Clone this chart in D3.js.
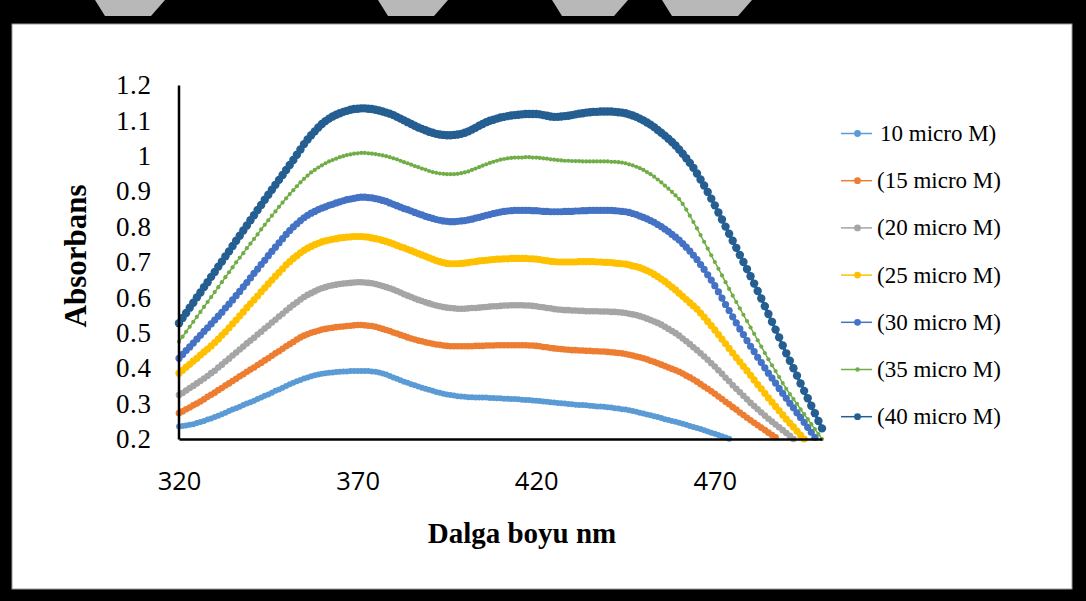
<!DOCTYPE html>
<html>
<head>
<meta charset="utf-8">
<script src="https://cdn.jsdelivr.net/npm/d3@7"></script>
<style>
  html, body { margin: 0; padding: 0; background: #fff; }
  svg { display: block; }
</style>
</head>
<body>
<svg id="chart" width="1086" height="601"></svg>
<script>
// Wavelength axis: one reading per nanometre, starting at 320 nm
const wavelengths = d3.range(320, 501);
const xTickValues = [320, 370, 420, 470];
const yTickValues = [0.2, 0.3, 0.4, 0.5, 0.6, 0.7, 0.8, 0.9, 1.0, 1.1, 1.2];
const yTickLabels = ["0.2", "0.3", "0.4", "0.5", "0.6", "0.7", "0.8", "0.9", "1", "1.1", "1.2"];

const seriesNames = ["10 micro M)", "(15 micro M)", "(20 micro M)", "(25 micro M)",
                     "(30 micro M)", "(35 micro M)", "(40 micro M)"];
const seriesColors = ["#5B9BD5", "#ED7D31", "#A5A5A5", "#FFC000", "#4472C4", "#70AD47", "#255E91"];

// Absorbance readings (one per nm from 320 nm; each stops where it leaves the 0.2 floor)
const abs10 = [
  .235,.237,.238,.240,.242,.245, .248,.251,.255,.258,.262, .266,.270,.274,.279,.283,
  .287,.291,.296,.300,.304, .308,.313,.317,.322,.326, .331,.336,.340,.345,.350,
  .355,.359,.363,.367,.371, .374,.377,.380,.382,.384, .386,.387,.388,.389,.390,
  .391,.391,.392,.392,.392, .392,.392,.392,.391,.390, .388,.385,.382,.378,.374,
  .370,.366,.362,.359,.355, .352,.348,.345,.342,.339, .336,.333,.331,.328,.326,
  .324,.323,.321,.320,.319, .318,.318,.317,.317,.317, .317,.316,.316,.315,.315,
  .314,.314,.313,.313,.312, .311,.310,.310,.309,.308, .307,.306,.305,.304,.303,
  .302,.301,.300,.299,.298, .297,.296,.296,.295,.294, .293,.292,.292,.291,.290,
  .289,.287,.286,.284,.283, .281,.279,.277,.274,.272, .269,.267,.264,.262,.259,
  .256,.254,.251,.249,.246, .243,.240,.237,.234,.231, .228,.225,.221,.218,.215,
  .211,.208,.204,.201
];
const abs15 = [
  .273,.278,.284,.289,.295,.300, .306,.312,.319,.325,.331, .338,.344,.351,.357,.364,
  .370,.377,.383,.390,.396, .402,.409,.415,.422,.428, .435,.442,.448,.455,.462,
  .468,.474,.481,.487,.492, .496,.500,.503,.506,.509, .511,.513,.514,.516,.517,
  .518,.519,.520,.521,.522, .522,.521,.520,.519,.517, .514,.511,.508,.505,.501,
  .498,.494,.491,.487,.484, .481,.478,.476,.473,.471, .469,.467,.466,.464,.463,
  .462,.462,.462,.462,.462, .462,.462,.463,.463,.463, .464,.464,.464,.465,.465,
  .465,.465,.465,.465,.465, .465,.465,.464,.464,.463, .462,.460,.459,.457,.456,
  .455,.454,.453,.452,.451, .451,.450,.450,.449,.449, .448,.448,.447,.447,.446,
  .445,.444,.443,.442,.440, .438,.436,.433,.431,.428, .425,.421,.418,.414,.410,
  .406,.402,.398,.394,.390, .385,.379,.374,.368,.362, .355,.348,.342,.335,.328,
  .320,.313,.305,.298,.290, .283,.275,.268,.260,.253, .246,.239,.232,.225,.218,
  .211,.205
];
const abs20 = [
  .324,.330,.337,.344,.350,.357, .364,.371,.378,.386,.393, .402,.410,.419,.427,.436,
  .444,.453,.461,.470,.478, .486,.495,.503,.512,.520, .529,.537,.546,.554,.563,
  .571,.579,.586,.594,.601, .607,.612,.617,.622,.626, .629,.632,.634,.636,.638,
  .639,.640,.641,.642,.643, .643,.642,.641,.640,.638, .635,.632,.629,.626,.622,
  .618,.614,.609,.605,.601, .597,.593,.590,.586,.583, .580,.577,.575,.573,.571,
  .570,.569,.568,.568,.568, .569,.570,.570,.571,.572, .573,.574,.575,.575,.576,
  .577,.577,.578,.578,.578, .578,.577,.577,.576,.575, .573,.572,.570,.569,.567,
  .566,.565,.564,.564,.563, .563,.562,.562,.561,.561, .561,.561,.560,.560,.560,
  .559,.559,.558,.557,.556, .554,.552,.550,.547,.544, .540,.536,.532,.528,.523,
  .517,.511,.505,.499,.492, .484,.476,.468,.459,.451, .442,.433,.424,.414,.405,
  .394,.384,.373,.363,.352, .342,.332,.322,.312,.302, .293,.284,.275,.266,.257,
  .249,.241,.233,.225,.217, .209,.200
];
const abs25 = [
  .386,.394,.403,.411,.420,.428, .437,.446,.454,.463,.472, .482,.493,.503,.514,.525,
  .536,.548,.559,.571,.582, .593,.604,.616,.627,.638, .649,.660,.670,.681,.692,
  .701,.710,.718,.726,.733, .739,.744,.749,.753,.757, .760,.762,.764,.766,.768,
  .769,.770,.771,.772,.772, .772,.771,.770,.768,.766, .764,.761,.758,.755,.751,
  .747,.743,.740,.736,.732, .728,.724,.720,.716,.712, .708,.704,.701,.698,.696,
  .695,.695,.695,.696,.697, .698,.700,.701,.703,.704, .705,.706,.707,.708,.708,
  .709,.709,.710,.710,.710, .710,.710,.709,.709,.708, .707,.705,.704,.702,.701,
  .700,.700,.700,.700,.700, .700,.701,.701,.701,.701, .701,.700,.700,.699,.699,
  .698,.697,.696,.695,.694, .692,.689,.687,.684,.680, .676,.671,.665,.659,.652,
  .645,.637,.629,.621,.612, .603,.594,.585,.576,.567, .556,.544,.532,.520,.508,
  .495,.482,.469,.456,.443, .430,.418,.405,.393,.380, .367,.354,.342,.329,.316,
  .304,.292,.280,.268,.256, .245,.234,.222,.211,.200
];
const abs30 = [
  .428,.439,.450,.460,.471,.482, .493,.504,.514,.525,.536, .547,.558,.570,.581,.593,
  .605,.617,.630,.642,.655, .668,.680,.693,.705,.718, .730,.742,.754,.766,.778,
  .789,.799,.808,.817,.825, .832,.838,.843,.848,.852, .856,.860,.863,.867,.870,
  .873,.876,.878,.880,.882, .883,.883,.882,.881,.879, .877,.874,.871,.867,.863,
  .859,.855,.851,.848,.844, .840,.836,.833,.829,.826, .823,.820,.818,.816,.815,
  .814,.814,.815,.816,.817, .819,.821,.824,.826,.829, .832,.834,.837,.839,.841,
  .843,.844,.845,.846,.846, .846,.846,.846,.845,.845, .844,.843,.843,.842,.842,
  .842,.842,.843,.843,.843, .844,.844,.845,.845,.846, .846,.846,.846,.846,.846,
  .846,.845,.844,.843,.842, .840,.837,.834,.830,.826, .822,.817,.812,.806,.800,
  .793,.786,.778,.770,.762, .752,.742,.731,.719,.707, .693,.679,.664,.649,.633,
  .616,.598,.580,.563,.545, .528,.511,.495,.478,.462, .447,.431,.416,.401,.386,
  .372,.358,.343,.329,.315, .301,.288,.274,.261,.247, .233,.219,.205
];
const abs35 = [
  .475,.489,.503,.517,.531,.545, .559,.573,.587,.601,.615, .629,.643,.657,.671,.685,
  .699,.712,.725,.739,.752, .765,.778,.792,.805,.818, .831,.843,.856,.868,.880,
  .892,.903,.914,.925,.935, .944,.953,.960,.967,.973, .979,.984,.988,.992,.996,
  .999,1.002,1.004,1.006,1.007, 1.008,1.008,1.007,1.006,1.005, 1.003,1.001,.999,.996,.993,
  .990,.986,.982,.979,.975, .971,.968,.964,.961,.957, .954,.952,.950,.949,.948,
  .948,.948,.949,.951,.953, .956,.960,.964,.968,.972, .976,.980,.983,.986,.989,
  .991,.993,.994,.995,.995, .995,.996,.996,.995,.995, .994,.993,.992,.990,.989,
  .988,.987,.986,.986,.985, .985,.985,.984,.984,.984, .984,.984,.984,.984,.984,
  .983,.983,.982,.981,.979, .976,.973,.969,.965,.960, .954,.948,.941,.933,.925,
  .916,.907,.898,.888,.878, .864,.848,.831,.813,.795, .776,.757,.738,.719,.700,
  .681,.662,.643,.624,.605, .587,.569,.551,.533,.515, .497,.479,.461,.443,.425,
  .408,.392,.375,.358,.342, .327,.313,.299,.284,.270, .256,.242,.228,.214,.200
];
const abs40 = [
  .527,.542,.556,.571,.585,.600, .614,.629,.643,.658,.672, .687,.701,.716,.730,.745,
  .760,.774,.789,.803,.818, .832,.847,.861,.876,.890, .904,.918,.932,.946,.960,
  .974,.988,1.003,1.018,1.033, 1.046,1.058,1.069,1.080,1.090, 1.098,1.105,1.111,1.116,1.120,
  1.124,1.127,1.130,1.132,1.133, 1.134,1.134,1.133,1.132,1.130, 1.128,1.125,1.122,1.119,1.115,
  1.110,1.105,1.100,1.095,1.090, 1.085,1.080,1.076,1.072,1.068, 1.065,1.062,1.060,1.059,1.058,
  1.058,1.059,1.060,1.062,1.065, 1.069,1.074,1.079,1.085,1.090, 1.095,1.099,1.102,1.105,1.108,
  1.110,1.112,1.114,1.115,1.116, 1.117,1.118,1.118,1.118,1.118, 1.117,1.115,1.113,1.111,1.110,
  1.110,1.111,1.112,1.113,1.115, 1.117,1.119,1.120,1.122,1.123, 1.124,1.124,1.125,1.125,1.125,
  1.125,1.124,1.123,1.122,1.120, 1.117,1.114,1.110,1.105,1.100, 1.094,1.088,1.081,1.073,1.065,
  1.057,1.048,1.039,1.029,1.018, 1.006,.993,.980,.966,.950, .933,.916,.898,.879,.860,
  .840,.820,.800,.780,.760, .740,.720,.700,.680,.660, .639,.618,.597,.575,.553,
  .531,.509,.487,.464,.442, .421,.400,.379,.357,.336, .315,.294,.273,.251,.230
];

const seriesValues = [abs10, abs15, abs20, abs25, abs30, abs35, abs40];
// marker radius / connecting line width per series
const markerRadius = [3.0, 3.3, 3.3, 3.6, 3.6, 2.1, 4.2];
const lineWidth = [2.5, 2.5, 2.5, 2.5, 2.5, 1.5, 3];

const svg = d3.select("#chart");
const W = 1086, H = 601;

// frame
svg.append("rect").attr("x", 0).attr("y", 0).attr("width", W).attr("height", H).attr("fill", "#000");
svg.append("rect").attr("x", 12).attr("y", 24).attr("width", W - 12 - 14).attr("height", H - 24 - 12)
  .attr("fill", "#fff").attr("stroke", "#9a9a9a").attr("stroke-width", 1);
// pale streaks across the top edge
const streaks = [[95, 165], [378, 448], [552, 628], [662, 752]];
svg.append("g").selectAll("path").data(streaks).join("path")
  .attr("d", d => `M${d[0]},0 L${d[1]},0 L${d[1] - 14},16 L${d[0] + 10},16 Z`)
  .attr("fill", "#d8d8d8").attr("opacity", 0.85);

const x = d3.scaleLinear().domain([320, 500]).range([179, 822]);
const y = d3.scaleLinear().domain([0.2, 1.2]).range([439, 85]);

// series: line first, then dense markers, drawn in legend order
const line = d3.line().x((d, i) => x(wavelengths[i])).y(d => y(d));
const plot = svg.append("g");
seriesValues.forEach((vals, s) => {
  const g = plot.append("g");
  g.append("path").datum(vals).attr("d", line)
    .attr("fill", "none").attr("stroke", seriesColors[s])
    .attr("stroke-width", lineWidth[s]).attr("stroke-linejoin", "round");
  g.selectAll("circle").data(vals).join("circle")
    .attr("cx", (d, i) => x(wavelengths[i])).attr("cy", d => y(d))
    .attr("r", markerRadius[s]).attr("fill", seriesColors[s]);
});

// axes
const yAxis = d3.axisLeft(y).tickValues(yTickValues).tickSize(0).tickPadding(27)
  .tickFormat((d, i) => yTickLabels[i]);
const gy = svg.append("g").attr("transform", "translate(178.5,0)").call(yAxis);
gy.select(".domain").attr("stroke", "#000").attr("stroke-width", 2.5);
gy.selectAll("text").attr("font-family", "'Liberation Serif', 'Times New Roman', serif")
  .attr("font-size", 27).attr("fill", "#000").attr("letter-spacing", 0.6);

const xAxis = d3.axisBottom(x).tickValues(xTickValues).tickSize(0).tickPadding(33);
const gx = svg.append("g").attr("transform", "translate(0,439)").call(xAxis);
gx.select(".domain").attr("stroke", "#000").attr("stroke-width", 2.5);
gx.selectAll("text").attr("font-family", "'Open Sans', sans-serif")
  .attr("font-size", 25.5).attr("fill", "#000");

// axis titles
svg.append("text").attr("x", 522).attr("y", 543).attr("text-anchor", "middle")
  .attr("font-family", "'Liberation Serif', 'Times New Roman', serif")
  .attr("font-weight", "bold").attr("font-size", 29).text("Dalga boyu nm");
svg.append("text").attr("transform", "translate(86,256) rotate(-90)").attr("text-anchor", "middle")
  .attr("font-family", "'Liberation Serif', 'Times New Roman', serif")
  .attr("font-weight", "bold").attr("font-size", 31).text("Absorbans");

// legend
const legend = svg.append("g");
const items = legend.selectAll("g").data(seriesNames).join("g")
  .attr("transform", (d, i) => `translate(0,${133.5 + i * 47.2})`);
items.append("line").attr("x1", 841).attr("x2", 872).attr("y1", 0).attr("y2", 0)
  .attr("stroke", (d, i) => seriesColors[i]).attr("stroke-width", 1.5);
items.append("circle").attr("cx", 857.5).attr("cy", 0)
  .attr("r", (d, i) => i === 5 ? 2.2 : 3.4).attr("fill", (d, i) => seriesColors[i]);
items.append("text").attr("x", (d, i) => i === 0 ? 880 : 877).attr("y", 0).attr("dy", "0.33em")
  .attr("font-family", "'Liberation Serif', 'Times New Roman', serif")
  .attr("font-size", 23).attr("fill", "#000").text(d => d);
</script>
</body>
</html>
